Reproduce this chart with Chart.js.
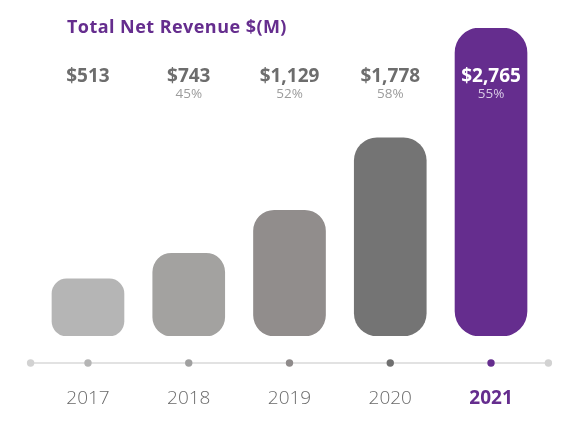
<!DOCTYPE html>
<html>
<head>
<meta charset="utf-8">
<script src="https://cdn.jsdelivr.net/npm/chart.js@4.4.1/dist/chart.umd.min.js"></script>
<style>
  html, body { margin: 0; padding: 0; background: #ffffff; }
  #wrap { position: relative; width: 580px; height: 440px; }
  #title { position: absolute; left: 67px; top: 15px; font-family: "Open Sans", sans-serif; font-weight: 700; font-size: 18px; letter-spacing: 0.45px; line-height: 22px; color: #652d8e; white-space: nowrap; }
  canvas { position: absolute; left: 0; top: 0; }
</style>
</head>
<body>
<div id="wrap">
  <canvas id="c" width="580" height="440"></canvas>
  <div id="title">Total Net Revenue $(M)</div>
</div>
<script>
const years = ["2017", "2018", "2019", "2020", "2021"];
const revenue = [513, 743, 1129, 1778, 2765];
const growth = [null, 45, 52, 58, 55];
const barColors = ["#b5b5b5", "#a3a2a0", "#918d8c", "#747474", "#652d8e"];
const dotColors = ["#b5b5b5", "#a0a0a0", "#8f8b8b", "#6f6f6f", "#652d8e"];
const highlightIndex = 4;

const labelPlugin = {
  id: "labels",
  afterDatasetsDraw(chart) {
    const ctx = chart.ctx;
    const meta = chart.getDatasetMeta(0);
    const area = chart.chartArea;
    ctx.save();
    ctx.textAlign = "center";
    ctx.textBaseline = "middle";
    meta.data.forEach((bar, i) => {
      const hl = i === highlightIndex;
      ctx.font = "700 19px 'Open Sans', sans-serif";
      ctx.fillStyle = hl ? "#ffffff" : "#6d6d6d";
      ctx.fillText("$" + revenue[i].toLocaleString("en-US"), bar.x, area.top + 49);
      if (growth[i] !== null) {
        ctx.font = "400 13.5px 'Open Sans', sans-serif";
        ctx.fillStyle = hl ? "#d9cbe6" : "#9c9c9c";
        ctx.fillText(growth[i] + "%", bar.x, area.top + 66);
      }
    });
    // timeline
    const y = area.bottom + 27;
    ctx.strokeStyle = "#d9d9d9";
    ctx.lineWidth = 1.5;
    ctx.beginPath();
    ctx.moveTo(area.left - 7, y);
    ctx.lineTo(area.right + 7, y);
    ctx.stroke();
    const dot = (x, c) => { ctx.fillStyle = c; ctx.beginPath(); ctx.arc(x, y, 3.7, 0, Math.PI * 2); ctx.fill(); };
    dot(area.left - 7, "#d2d2d2");
    dot(area.right + 7, "#d2d2d2");
    meta.data.forEach((bar, i) => dot(bar.x, dotColors[i]));
    ctx.restore();
  }
};

new Chart(document.getElementById("c"), {
  type: "bar",
  data: {
    labels: years,
    datasets: [{
      data: revenue,
      backgroundColor: barColors,
      borderWidth: 0,
      borderRadius: [15, 19, 21, 23, 25],
      borderSkipped: false,
      barThickness: 72
    }]
  },
  options: {
    responsive: false,
    animation: false,
    devicePixelRatio: 1,
    layout: { padding: { left: 37.6, right: 38.6, top: 28, bottom: 0 } },
    plugins: { legend: { display: false }, tooltip: { enabled: false }, title: { display: false } },
    scales: {
      y: { display: false, min: 0, max: Math.max(...revenue) },
      x: {
        afterFit: s => { s.height = 104; },
        grid: { display: false, drawTicks: false },
        border: { display: false },
        ticks: {
          padding: 51,
          color: ctx => ctx.index === highlightIndex ? "#652d8e" : "#6a6a6a",
          font: ctx => ctx.index === highlightIndex
            ? { family: "'Open Sans', sans-serif", size: 19, weight: "700" }
            : { family: "'Open Sans', sans-serif", size: 19, weight: "300" }
        }
      }
    }
  },
  plugins: [labelPlugin]
});
</script>
</body>
</html>
